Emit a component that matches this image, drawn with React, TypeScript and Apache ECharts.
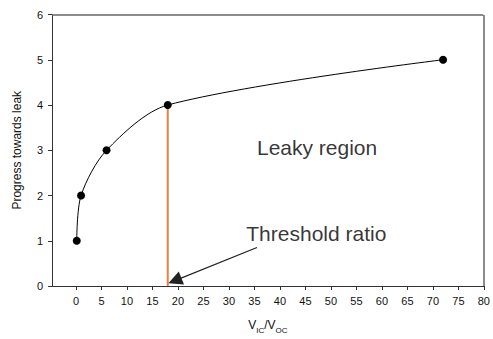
import React, { useEffect, useRef } from "react";
import * as echarts from "echarts";

const X_MIN = -4.7;
const X_MAX = 80;
const Y_MIN = 0;
const Y_MAX = 6;
const xTicks = [0, 5, 10, 15, 20, 25, 30, 35, 40, 45, 50, 55, 60, 65, 70, 75, 80];
const progressPoints: [number, number][] = [
  [0.15, 1],
  [1, 2],
  [6, 3],
  [18, 4],
  [72, 5],
];
const thresholdLine: [number, number][] = [
  [18, 0],
  [18, 4],
];
const arrowStart: [number, number] = [35.5, 0.85];
const arrowEnd: [number, number] = [19.4, 0.12];
const annotations = [
  { name: "Leaky region", value: [35.5, 3.06] },
  { name: "Threshold ratio", value: [33.4, 1.15] },
];
const frameTop: [number, number][] = [
  [X_MIN, 5.99],
  [79.9, 5.99],
];
const frameRight: [number, number][] = [
  [79.9, 5.99],
  [79.9, Y_MIN],
];

const FONT = "'Liberation Sans', Arial, sans-serif";

export default function App() {
  const ref = useRef<HTMLDivElement>(null);
  useEffect(() => {
    document.body.style.margin = "0";
    if (!ref.current) return;
    const chart = echarts.init(ref.current, null, { renderer: "svg" });
    chart.setOption({
      animation: false,
      backgroundColor: "#fff",
      textStyle: { fontFamily: FONT },
      grid: {
        left: 52,
        right: 7,
        top: 14.5,
        bottom: 48,
      },
      xAxis: {
        type: "value",
        min: X_MIN,
        max: X_MAX,
        splitLine: { show: false },
        axisLine: { onZero: false, lineStyle: { color: "#333", width: 1 } },
        axisTick: {
          show: true,
          inside: false,
          length: 4,
          customValues: xTicks,
          lineStyle: { color: "#333" },
        },
        axisLabel: {
          customValues: xTicks,
          fontSize: 11,
          color: "#111",
          margin: 9,
          fontFamily: FONT,
        },
        name: "{v|V}{s|IC}{v|/V}{s|OC}",
        nameLocation: "middle",
        nameGap: 31,
        nameTextStyle: {
          fontFamily: FONT,
          verticalAlign: "top",
          rich: {
            v: { fontSize: 12, color: "#111", fontFamily: FONT, lineHeight: 14, verticalAlign: "bottom" },
            s: {
              fontSize: 8,
              color: "#111",
              fontFamily: FONT,
              lineHeight: 14,
              verticalAlign: "bottom",
              padding: [0, 0, -3, 0],
            },
          },
        },
      },
      yAxis: {
        type: "value",
        min: Y_MIN,
        max: Y_MAX,
        interval: 1,
        splitLine: { show: false },
        axisLine: { show: true, onZero: false, lineStyle: { color: "#333", width: 1 } },
        axisTick: { show: true, inside: false, length: 4, lineStyle: { color: "#333" } },
        axisLabel: { fontSize: 11, color: "#111", margin: 9, fontFamily: FONT },
        name: "Progress towards leak",
        nameLocation: "middle",
        nameGap: 29,
        nameRotate: 90,
        nameTextStyle: { fontSize: 12, color: "#111", fontFamily: FONT },
      },
      series: [
        {
          type: "line",
          data: thresholdLine,
          symbol: "none",
          lineStyle: { color: "#e8823c", width: 2 },
          silent: true,
          z: 1,
        },
        {
          type: "line",
          data: progressPoints,
          smooth: 0.3,
          symbol: "circle",
          symbolSize: 8,
          itemStyle: { color: "#000" },
          lineStyle: { color: "#000", width: 1 },
          z: 3,
        },
        {
          type: "scatter",
          data: annotations,
          symbolSize: 0,
          silent: true,
          label: {
            show: true,
            position: "right",
            distance: 0,
            formatter: (p: any) => p.name,
            fontSize: 21,
            color: "#000",
            fontFamily: FONT,
          },
          markLine: {
            silent: true,
            symbol: ["none", "triangle"],
            symbolSize: 14,
            label: { show: false },
            lineStyle: { color: "#222", width: 1.2, type: "solid" },
            data: [[{ coord: arrowStart }, { coord: arrowEnd }]],
          },
          z: 4,
        },
        {
          type: "line",
          data: [],
          silent: true,
          markLine: {
            silent: true,
            symbol: ["none", "none"],
            label: { show: false },
            lineStyle: { color: "#666", width: 1.5, type: "solid" },
            data: [
              [{ coord: frameTop[0] }, { coord: frameTop[1] }],
              [{ coord: frameRight[0] }, { coord: frameRight[1] }],
            ],
          },
          z: 5,
        },
      ],
    });
    return () => chart.dispose();
  }, []);
  return <div ref={ref} style={{ width: 493, height: 339 }} />;
}
